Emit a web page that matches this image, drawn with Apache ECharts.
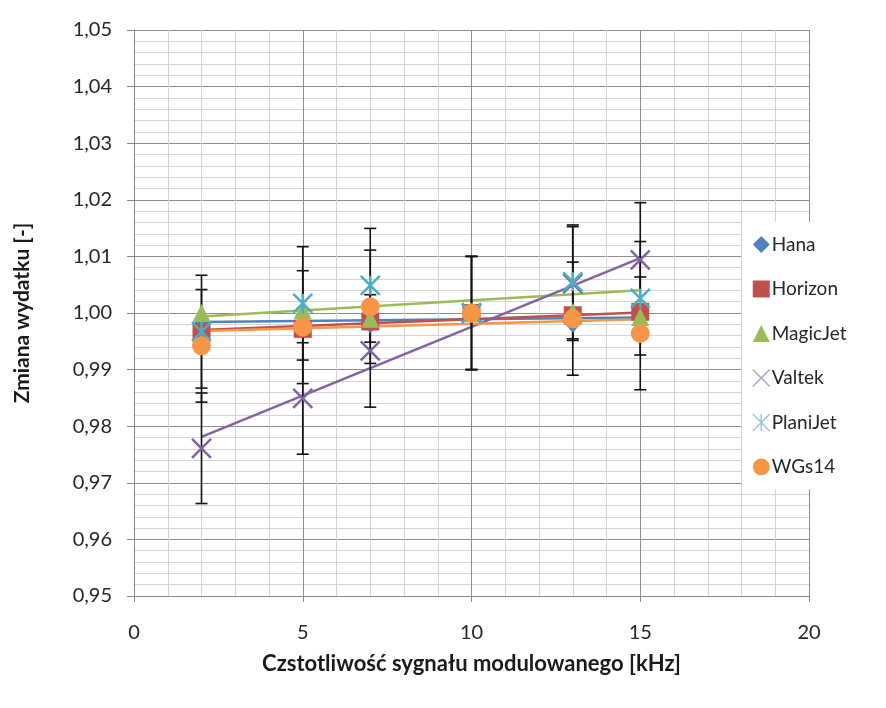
<!DOCTYPE html>
<html>
<head>
<meta charset="utf-8">
<script src="https://cdn.jsdelivr.net/npm/echarts@6/dist/echarts.min.js"></script>
<style>
html,body{margin:0;padding:0;background:#fff;}
#chart{width:886px;height:708px;}
</style>
</head>
<body>
<div id="chart"></div>
<script>
// ---- data ----
const xValues = [2, 5, 7, 10, 13, 15];
const seriesNames = ['Hana', 'Horizon', 'MagicJet', 'Valtek', 'PlaniJet', 'WGs14'];
const hana     = [0.9980, 0.9980, 0.9981, 1.0000, 0.9982, 0.9995];
const horizon  = [0.9966, 0.9972, 0.9985, 1.0000, 0.9996, 1.0002];
const magicJet = [1.0000, 1.0005, 0.9990, 1.0000, 1.0002, 0.9993];
const valtek   = [0.9761, 0.9849, 0.9933, 1.0000, 1.0052, 1.0094];
const planiJet = [0.9967, 1.0017, 1.0049, 1.0000, 1.0055, 1.0026];
const wgs14    = [0.9942, 0.9975, 1.0011, 1.0000, 0.9990, 0.9964];
// error bars: percentage of value, only for these series
const errorPercent = 1;
const errorSeries = ['Valtek', 'PlaniJet', 'WGs14'];
// linear trendlines (value at first and last x)
const trendX = [2, 15];
const trendHana     = [0.9984, 0.9992];
const trendHorizon  = [0.9970, 1.0001];
const trendMagicJet = [0.9994, 1.0040];
const trendValtek   = [0.9781, 1.0097];
const trendWGs14    = [0.9968, 0.9989];
// axis ticks
const xTicks = [0, 5, 10, 15, 20];
const yTicks = [0.95, 0.96, 0.97, 0.98, 0.99, 1.00, 1.01, 1.02, 1.03, 1.04, 1.05];

// ---- styles ----
const colors = {
  Hana: '#4F81BD', Horizon: '#C0504D', MagicJet: '#9BBB59',
  Valtek: '#8064A2', PlaniJet: '#4BACC6', WGs14: '#F79646'
};
const pathX = 'path://M0,0L10,10M10,0L0,10';
const pathStar = 'path://M0,0L10,10M10,0L0,10M5,0L5,10';
const symbols = {
  Hana: {symbol: 'diamond', size: [17, 19]},
  Horizon: {symbol: 'rect', size: 18},
  MagicJet: {symbol: 'triangle', size: [18, 18]},
  Valtek: {symbol: pathX, size: 19, stroke: true},
  PlaniJet: {symbol: pathStar, size: 19, stroke: true},
  WGs14: {symbol: 'circle', size: 19}
};
const valuesByName = {Hana: hana, Horizon: horizon, MagicJet: magicJet, Valtek: valtek, PlaniJet: planiJet, WGs14: wgs14};
const trendsByName = {Hana: trendHana, Horizon: trendHorizon, MagicJet: trendMagicJet, Valtek: trendValtek, WGs14: trendWGs14};

const FONT = 'Lato';
const series = [];

// trendlines
Object.keys(trendsByName).forEach(function (n) {
  series.push({
    type: 'line', name: n + '_trend', silent: true, z: 2,
    data: trendX.map(function (x, i) { return [x, trendsByName[n][i]]; }),
    showSymbol: false, symbol: 'none',
    lineStyle: {color: colors[n], width: 2.5},
    emphasis: {disabled: true}
  });
});

// error bars
const errData = [];
errorSeries.forEach(function (n) {
  valuesByName[n].forEach(function (v, i) {
    const e = v * errorPercent / 100;
    errData.push([xValues[i], v - e, v + e]);
  });
});
series.push({
  type: 'custom', name: 'err', silent: true, z: 3,
  data: errData,
  renderItem: function (params, api) {
    const x = api.value(0);
    const lo = api.coord([x, api.value(1)]);
    const hi = api.coord([x, api.value(2)]);
    const w = 6;
    const st = {stroke: '#111', lineWidth: 1.6};
    return {type: 'group', children: [
      {type: 'line', shape: {x1: lo[0], y1: lo[1], x2: hi[0], y2: hi[1]}, style: st},
      {type: 'line', shape: {x1: lo[0] - w, y1: lo[1], x2: lo[0] + w, y2: lo[1]}, style: st},
      {type: 'line', shape: {x1: hi[0] - w, y1: hi[1], x2: hi[0] + w, y2: hi[1]}, style: st}
    ]};
  }
});

// markers
seriesNames.forEach(function (n) {
  const s = symbols[n];
  series.push({
    type: 'scatter', name: n, z: 4,
    data: xValues.map(function (x, i) { return [x, valuesByName[n][i]]; }),
    symbol: s.symbol, symbolSize: s.size,
    itemStyle: s.stroke ? {color: 'rgba(0,0,0,0)', borderColor: colors[n], borderWidth: 2.5, opacity: 1}
                        : {color: colors[n], opacity: 1},
    emphasis: {disabled: true}
  });
});

const legendData = seriesNames.map(function (n) {
  const s = symbols[n];
  const item = {name: n, icon: s.symbol === 'rect' ? 'rect' : s.symbol};
  if (s.stroke) {
    item.itemStyle = {color: 'rgba(0,0,0,0)', borderColor: n === 'Valtek' ? '#B3A2C7' : '#93CDDD', borderWidth: 1.5};
  }
  return item;
});

const chart = echarts.init(document.getElementById('chart'), null, {renderer: 'canvas'});
chart.setOption({
  animation: false,
  backgroundColor: '#fff',
  grid: {left: 134, right: 77, top: 30, bottom: 112, containLabel: false},
  legend: {
    orient: 'vertical', left: 742, top: 222,
    backgroundColor: '#fff',
    padding: [13, 40, 13, 10],
    itemWidth: 17, itemHeight: 17, itemGap: 25.5,
    textStyle: {fontFamily: FONT, fontSize: 19, color: '#262626', padding: [0, 0, 0, -3]},
    data: legendData,
    selectedMode: false
  },
  xAxis: {
    type: 'value', min: 0, max: 20, interval: 5,
    name: 'Czstotliwość sygnału modulowanego [kHz]',
    nameLocation: 'middle', nameGap: 57,
    nameTextStyle: {fontFamily: FONT, fontSize: 22, fontWeight: 'bold', color: '#1a1a1a'},
    axisLine: {show: true, lineStyle: {color: '#868686', width: 1}},
    axisTick: {show: true, length: 6, lineStyle: {color: '#868686'}},
    axisLabel: {fontFamily: FONT, fontSize: 20, color: '#262626', margin: 27,
      formatter: function (v) { return xTicks.indexOf(v) >= 0 ? String(v) : ''; }},
    splitLine: {show: true, lineStyle: {color: '#8c8c8c', width: 1}},
    minorTick: {show: false, splitNumber: 5},
    minorSplitLine: {show: true, lineStyle: {color: '#d4d4d4', width: 1}}
  },
  yAxis: {
    type: 'value', min: 0.95, max: 1.05, interval: 0.01,
    name: 'Zmiana wydatku [-]',
    nameLocation: 'middle', nameGap: 101,
    nameTextStyle: {fontFamily: FONT, fontSize: 21, fontWeight: 'bold', color: '#1a1a1a'},
    axisLine: {show: true, lineStyle: {color: '#868686', width: 1}},
    axisTick: {show: true, length: 7, lineStyle: {color: '#868686'}},
    axisLabel: {fontFamily: FONT, fontSize: 20, color: '#262626', margin: 22,
      formatter: function (v) {
        const t = yTicks.find(function (k) { return Math.abs(k - v) < 1e-9; });
        return t === undefined ? '' : t.toFixed(2).replace('.', ',');
      }},
    splitLine: {show: true, lineStyle: {color: '#8c8c8c', width: 1}},
    minorTick: {show: false, splitNumber: 5},
    minorSplitLine: {show: true, lineStyle: {color: '#d4d4d4', width: 1}}
  },
  series: series
});
</script>
</body>
</html>
